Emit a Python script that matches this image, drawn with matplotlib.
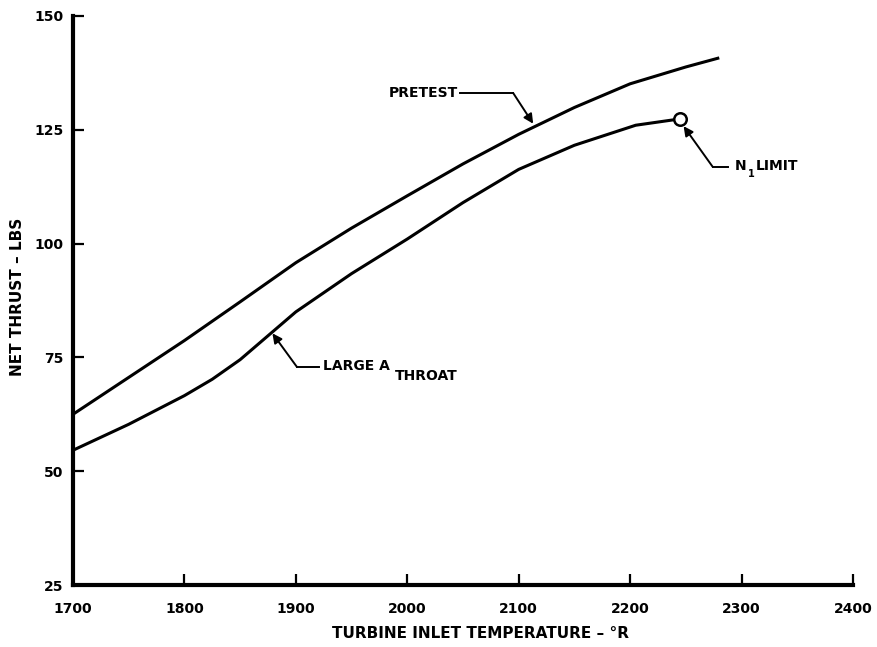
import matplotlib
matplotlib.use("Agg")
import matplotlib.pyplot as plt
import numpy as np

# Net thrust vs turbine inlet temperature
temp_pretest = [1700, 1750, 1800, 1850, 1900, 1950, 2000, 2050, 2100, 2150, 2200, 2250, 2280]
thrust_pretest = [62.5, 70.6, 78.7, 87.2, 95.8, 103.4, 110.5, 117.5, 124.0, 129.9, 135.1, 138.8, 140.8]

temp_throat = [1700, 1750, 1800, 1825, 1850, 1900, 1950, 2000, 2050, 2100, 2150, 2205, 2245]
thrust_throat = [54.6, 60.3, 66.6, 70.2, 74.5, 85.0, 93.4, 101.0, 109.0, 116.3, 121.6, 126.0, 127.4]

n1_limit_temp = 2245
n1_limit_thrust = 127.4

x_ticks = [1700, 1800, 1900, 2000, 2100, 2200, 2300, 2400]
y_ticks = [25, 50, 75, 100, 125, 150]

font = dict(family="DejaVu Sans", weight="bold", color="black")

fig = plt.figure(figsize=(8.77, 6.47), dpi=100)
ax = fig.add_axes([0.0832, 0.0958, 0.8894, 0.8795])

ax.plot(temp_pretest, thrust_pretest, color="black", lw=2.2, solid_capstyle="butt")
ax.plot(temp_throat, thrust_throat, color="black", lw=2.2, solid_capstyle="butt")
ax.plot(n1_limit_temp, n1_limit_thrust, "o", ms=9, mfc="white", mec="black", mew=1.8, zorder=5)

ax.set_xlim(1700, 2400)
ax.set_ylim(25, 150)
ax.set_xticks(x_ticks)
ax.set_yticks(y_ticks)
ax.set_xticklabels([str(t) for t in x_ticks], **font, fontsize=10)
ax.set_yticklabels([str(t) for t in y_ticks], **font, fontsize=10)
ax.tick_params(direction="in", length=8, width=1.6)
ax.tick_params(axis="y", pad=7)
ax.tick_params(axis="x", pad=12)

for side in ["top", "right"]:
    ax.spines[side].set_visible(False)
for side in ["left", "bottom"]:
    ax.spines[side].set_linewidth(3)

ax.set_xlabel("TURBINE INLET TEMPERATURE – °R", **font, fontsize=11)
ax.set_ylabel("NET THRUST – LBS", **font, fontsize=11)
ax.xaxis.set_label_coords(0.522, -0.072)
ax.yaxis.set_label_coords(-0.0615, 0.506)

arrow = dict(arrowstyle="-|>", color="black", lw=1.4, mutation_scale=14, shrinkA=0, shrinkB=0)
label = dict(**font, fontsize=10, va="center", ha="left")

# PRETEST leader
tip_x = 2113
tip_y = np.interp(tip_x, temp_pretest, thrust_pretest) + 0.8
ax.text(1983, 133.1, "PRETEST", **label)
ax.plot([2047, 2095], [133.1, 133.1], color="black", lw=1.4)
ax.annotate("", xy=(tip_x, tip_y), xytext=(2095, 133.1), arrowprops=arrow)

# N1 limit leader
ax.plot([2274, 2288], [116.9, 116.9], color="black", lw=1.4)
ax.annotate("", xy=(n1_limit_temp + 3, n1_limit_thrust - 1.6), xytext=(2274, 116.9), arrowprops=arrow)
ax.text(2294, 117.0, "N", **label)
ax.text(2305.5, 115.2, "1", **dict(font, fontsize=7), va="center", ha="left")
ax.text(2313, 117.0, "LIMIT", **label)

# Large A_throat leader
tip_x = 1879
tip_y = np.interp(tip_x, temp_throat, thrust_throat) - 0.3
ax.annotate("", xy=(tip_x, tip_y), xytext=(1901, 72.9), arrowprops=arrow)
ax.plot([1901, 1921], [72.9, 72.9], color="black", lw=1.4)
ax.text(1924, 73.1, "LARGE A", **label)
ax.text(1989, 71.0, "THROAT", **label)

fig.savefig("out.png", dpi=100, facecolor="white")
